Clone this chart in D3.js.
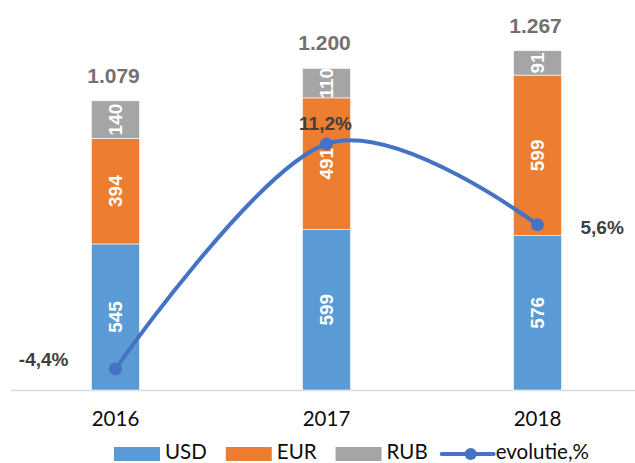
<!DOCTYPE html>
<html>
<head>
<meta charset="utf-8">
<script src="https://cdn.jsdelivr.net/npm/d3@7"></script>
<style>
  html, body { margin: 0; padding: 0; background: #fff; }
  svg { display: block; }
</style>
</head>
<body>
<div id="chart"></div>
<script>
const categories = ["2016", "2017", "2018"];
const seriesNames = ["USD", "EUR", "RUB"];
const usd = [545, 599, 576];
const eur = [394, 491, 599];
const rub = [140, 110, 91];
const totals = ["1.079", "1.200", "1.267"];
const evolution = [-4.4, 11.2, 5.6];
const evolutionLabels = ["-4,4%", "11,2%", "5,6%"];
const lineName = "evolutie,%";

const W = 635, H = 463;
const colors = { USD: "#5B9BD5", EUR: "#ED7D31", RUB: "#A5A5A5" };
const lineColor = "#4472C4";

const svg = d3.select("#chart").append("svg").attr("width", W).attr("height", H);

const x = d3.scaleBand().domain(categories).range([10, 643])
  .paddingInner(0.7725).paddingOuter(0.7725 / 2);
const y = d3.scaleLinear().domain([0, 1400]).range([390, 14.8]);
const y2 = d3.scaleLinear().domain([-6, 20]).range([392.0, 17.1]);

const table = categories.map((c, i) => ({ cat: c, USD: usd[i], EUR: eur[i], RUB: rub[i] }));
const stack = d3.stack().keys(seriesNames)(table);

// axis line
svg.append("line").attr("x1", 11).attr("x2", W).attr("y1", y(0) + 0.5).attr("y2", y(0) + 0.5)
  .attr("stroke", "#D9D9D9").attr("stroke-width", 1.3);

// bars
const layers = svg.selectAll("g.layer").data(stack).join("g").attr("class", "layer")
  .attr("fill", d => colors[d.key]);
layers.selectAll("rect").data(d => d).join("rect")
  .attr("x", d => x(d.data.cat))
  .attr("width", x.bandwidth())
  .attr("y", d => y(d[1]))
  .attr("height", d => y(d[0]) - y(d[1]))
  .attr("stroke", "#fff").attr("stroke-width", 0.6);

// segment labels
layers.selectAll("text").data(d => d.map(v => ({ v, key: d.key }))).join("text")
  .attr("transform", d => {
    const cx = x(d.v.data.cat) + x.bandwidth() / 2;
    const cy = (y(d.v[0]) + y(d.v[1])) / 2;
    return `translate(${cx},${cy}) rotate(-90)`;
  })
  .attr("text-anchor", "middle").attr("dy", "0.36em")
  .attr("fill", "#fff")
  .style("font-family", "'Liberation Sans', Arial, sans-serif")
  .style("font-weight", "bold").style("font-size", "19px")
  .text(d => d.v.data[d.key]);

// totals
svg.selectAll("text.total").data(categories).join("text").attr("class", "total")
  .attr("x", (c) => x(c) + x.bandwidth() / 2 - 2)
  .attr("y", (c, i) => y(usd[i] + eur[i] + rub[i]) - 18)
  .attr("text-anchor", "middle")
  .attr("fill", "#767171")
  .style("font-family", "'Liberation Sans', Arial, sans-serif")
  .style("font-weight", "bold").style("font-size", "21px")
  .text((c, i) => totals[i]);

// line
const pts = categories.map((c, i) => [x(c) + x.bandwidth() / 2, y2(evolution[i])]);
svg.append("path").attr("d", d3.line().curve(d3.curveCardinal.tension(0))(pts))
  .attr("fill", "none").attr("stroke", lineColor).attr("stroke-width", 4)
  .attr("stroke-linecap", "round");
svg.selectAll("circle.pt").data(pts).join("circle").attr("class", "pt")
  .attr("cx", d => d[0]).attr("cy", d => d[1]).attr("r", 6.5).attr("fill", lineColor);

const labelPos = ["left", "above", "right"];
svg.selectAll("text.evo").data(pts).join("text").attr("class", "evo")
  .attr("x", (d, i) => labelPos[i] === "left" ? d[0] - 47 : labelPos[i] === "right" ? d[0] + 43 : d[0] - 1)
  .attr("y", (d, i) => labelPos[i] === "left" ? d[1] - 3 : labelPos[i] === "right" ? d[1] + 9 : d[1] - 14)
  .attr("text-anchor", (d, i) => labelPos[i] === "left" ? "end" : labelPos[i] === "right" ? "start" : "middle")
  .attr("fill", "#404040")
  .style("font-family", "'Liberation Sans', Arial, sans-serif")
  .style("font-weight", "bold").style("font-size", "19px")
  .text((d, i) => evolutionLabels[i]);

// x axis labels
const xAxis = d3.axisBottom(x).tickSize(0).tickPadding(0);
const gx = svg.append("g").attr("transform", `translate(0, 0)`).call(xAxis);
gx.select(".domain").remove();
gx.selectAll("text")
  .attr("y", 425.5).attr("dy", null)
  .attr("fill", "#0D0D0D")
  .style("font-family", "Lato, 'Open Sans', sans-serif")
  .style("font-size", "20.5px");

// legend
const legend = svg.append("g");
let lx = 114;
const ly = 458.5;
const lyMid = 454;
seriesNames.forEach(name => {
  legend.append("rect").attr("x", lx).attr("y", lyMid - 7).attr("width", 46).attr("height", 14)
    .attr("fill", colors[name]);
  const t = legend.append("text").attr("x", lx + 51).attr("y", ly)
    .attr("fill", "#0D0D0D")
    .style("font-family", "Lato, 'Open Sans', sans-serif").style("font-size", "20.5px")
    .text(name);
  lx = lx + 51 + t.node().getComputedTextLength() + 19;
});
lx -= 5;
legend.append("line").attr("x1", lx).attr("x2", lx + 52).attr("y1", lyMid).attr("y2", lyMid)
  .attr("stroke", lineColor).attr("stroke-width", 4).attr("stroke-linecap", "round");
legend.append("circle").attr("cx", lx + 29).attr("cy", lyMid).attr("r", 6).attr("fill", lineColor);
legend.append("text").attr("x", lx + 54).attr("y", ly)
  .attr("fill", "#0D0D0D")
  .style("font-family", "Lato, 'Open Sans', sans-serif").style("font-size", "20.5px")
  .text(lineName);
</script>
</body>
</html>
